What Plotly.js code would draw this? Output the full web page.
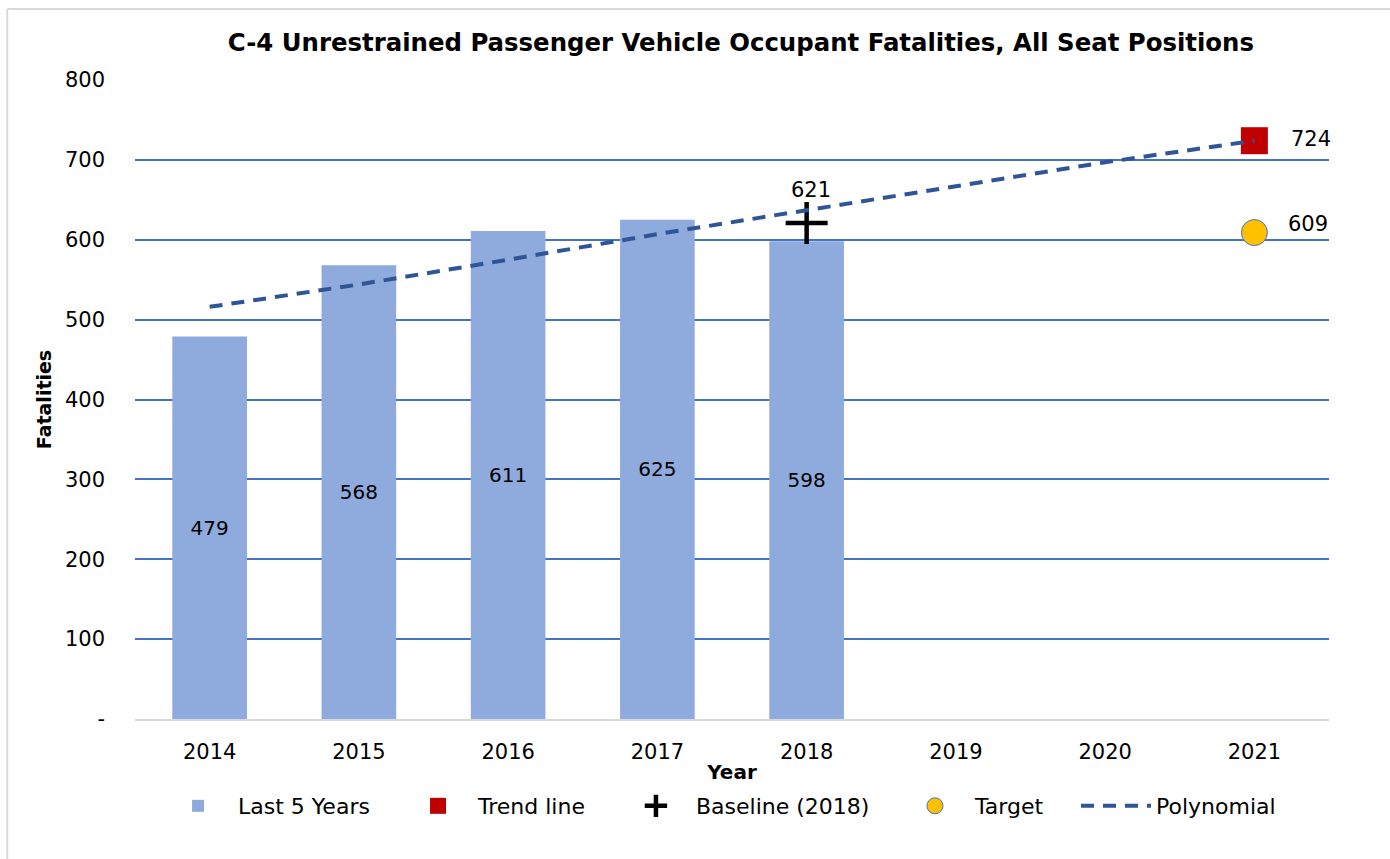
<!DOCTYPE html>
<html>
<head>
<meta charset="utf-8">
<script src="https://cdn.plot.ly/plotly-3.0.1.min.js"></script>
<style>
  html, body { margin: 0; padding: 0; background: #fff; }
  #chart { width: 1390px; height: 859px; }
</style>
</head>
<body>
<div id="chart"></div>
<script>
const years = ['2014', '2015', '2016', '2017', '2018', '2019', '2020', '2021'];
const barYears = ['2014', '2015', '2016', '2017', '2018'];
const last5Values = [479, 568, 611, 625, 598];
const trendYear = ['2021'];
const trendValue = [724];
const baselineYear = ['2018'];
const baselineValue = [621];
const targetYear = ['2021'];
const targetValue = [609];
const polynomialValues = [516, 544, 575, 607, 637, 667, 697, 724];
const yTickVals = [0, 100, 200, 300, 400, 500, 600, 700, 800];
const yTickText = ['-', '100', '200', '300', '400', '500', '600', '700', '800'];

const FONT = 'DejaVu Sans, Noto Sans, sans-serif';

const traces = [
  {
    type: 'bar', name: 'Last 5 Years', x: barYears, y: last5Values, legend: 'legend',
    marker: { color: '#8FAADC' },
    text: last5Values.map(String), textposition: 'inside', insidetextanchor: 'middle',
    textfont: { color: '#000', size: 20, family: FONT },
    hoverinfo: 'x+y'
  },
  {
    type: 'scatter', mode: 'markers', name: 'Trend line', x: trendYear, y: trendValue, legend: 'legend2',
    marker: { symbol: 'square', size: 27, color: '#C00000' }
  },
  {
    type: 'scatter', mode: 'markers', name: 'Baseline (2018)', x: baselineYear, y: baselineValue, legend: 'legend3',
    marker: { symbol: 'cross-thin', size: 30, color: '#000', line: { color: '#000', width: 4.5 } }
  },
  {
    type: 'scatter', mode: 'markers', name: 'Target', x: targetYear, y: targetValue, legend: 'legend4',
    marker: { symbol: 'circle', size: 26, color: '#FFC000', line: { color: '#4472C4', width: 1 } }
  },
  {
    type: 'scatter', mode: 'lines', name: 'Polynomial', x: years, y: polynomialValues, legend: 'legend5',
    line: { color: '#2F5597', width: 4, dash: '13px,9px' }
  }
];

const idx = (y) => years.indexOf(y);
const annotations = [
  { x: idx(baselineYear[0]), y: baselineValue[0], text: String(baselineValue[0]), showarrow: false, yshift: 33, xshift: 4 },
  { x: idx(trendYear[0]), y: trendValue[0], text: String(trendValue[0]), showarrow: false, xanchor: 'left', xshift: 35, yshift: 2 },
  { x: idx(targetYear[0]), y: targetValue[0], text: String(targetValue[0]), showarrow: false, xanchor: 'left', xshift: 32, yshift: 9 }
].map(a => Object.assign({ xref: 'x', yref: 'y', font: { family: FONT, size: 21, color: '#000' } }, a));

const legendBase = {
  orientation: 'h', y: -0.1362, yanchor: 'middle', xanchor: 'left', itemwidth: 70,
  font: { family: FONT, size: 22, color: '#000' }, bgcolor: 'rgba(0,0,0,0)'
};
const L = (x) => Object.assign({}, legendBase, { x: x });

const layout = {
  width: 1390, height: 859,
  paper_bgcolor: '#fff', plot_bgcolor: '#fff',
  margin: { l: 135, r: 61, t: 80, b: 140 },
  font: { family: FONT, size: 21, color: '#000' },
  title: {
    text: 'C-4 Unrestrained Passenger Vehicle Occupant Fatalities, All Seat Positions',
    font: { family: FONT, size: 24.4, color: '#000', weight: 'bold' },
    x: 0.533, xanchor: 'center', y: 0.951, yanchor: 'middle'
  },
  bargap: 0.5,
  showlegend: true,
  legend: L(0.0193),
  legend2: L(0.2203),
  legend3: L(0.4028),
  legend4: L(0.6365),
  legend5: L(0.7881),
  xaxis: {
    type: 'category', categoryorder: 'array', categoryarray: years,
    range: [-0.5, 7.5], showgrid: false, zeroline: false,
    showline: true, linecolor: '#D9D9D9', linewidth: 2,
    ticks: '', ticklabelstandoff: 13,
    tickfont: { family: FONT, size: 21 },
    title: { text: 'Year', font: { family: FONT, size: 20, weight: 'bold' }, standoff: 2 }
  },
  yaxis: {
    range: [0, 800], tickvals: yTickVals, ticktext: yTickText,
    showgrid: true, gridcolor: '#4472C4', gridwidth: 1.5,
    zeroline: false, showline: false, ticks: '', ticklabelstandoff: 29,
    tickfont: { family: FONT, size: 21 },
    title: { text: 'Fatalities', font: { family: FONT, size: 19, weight: 'bold' }, standoff: 8 }
  },
  annotations: annotations,
  shapes: [
    { type: 'line', xref: 'paper', yref: 'paper', x0: -0.107, x1: 1.1, y0: 1.111, y1: 1.111, line: { color: '#D9D9D9', width: 2 } },
    { type: 'line', xref: 'paper', yref: 'paper', x0: -0.107, x1: -0.107, y0: 1.111, y1: -0.3, line: { color: '#D9D9D9', width: 2 } }
  ]
};

Plotly.newPlot('chart', traces, layout, { displayModeBar: false, responsive: false });
</script>
</body>
</html>
